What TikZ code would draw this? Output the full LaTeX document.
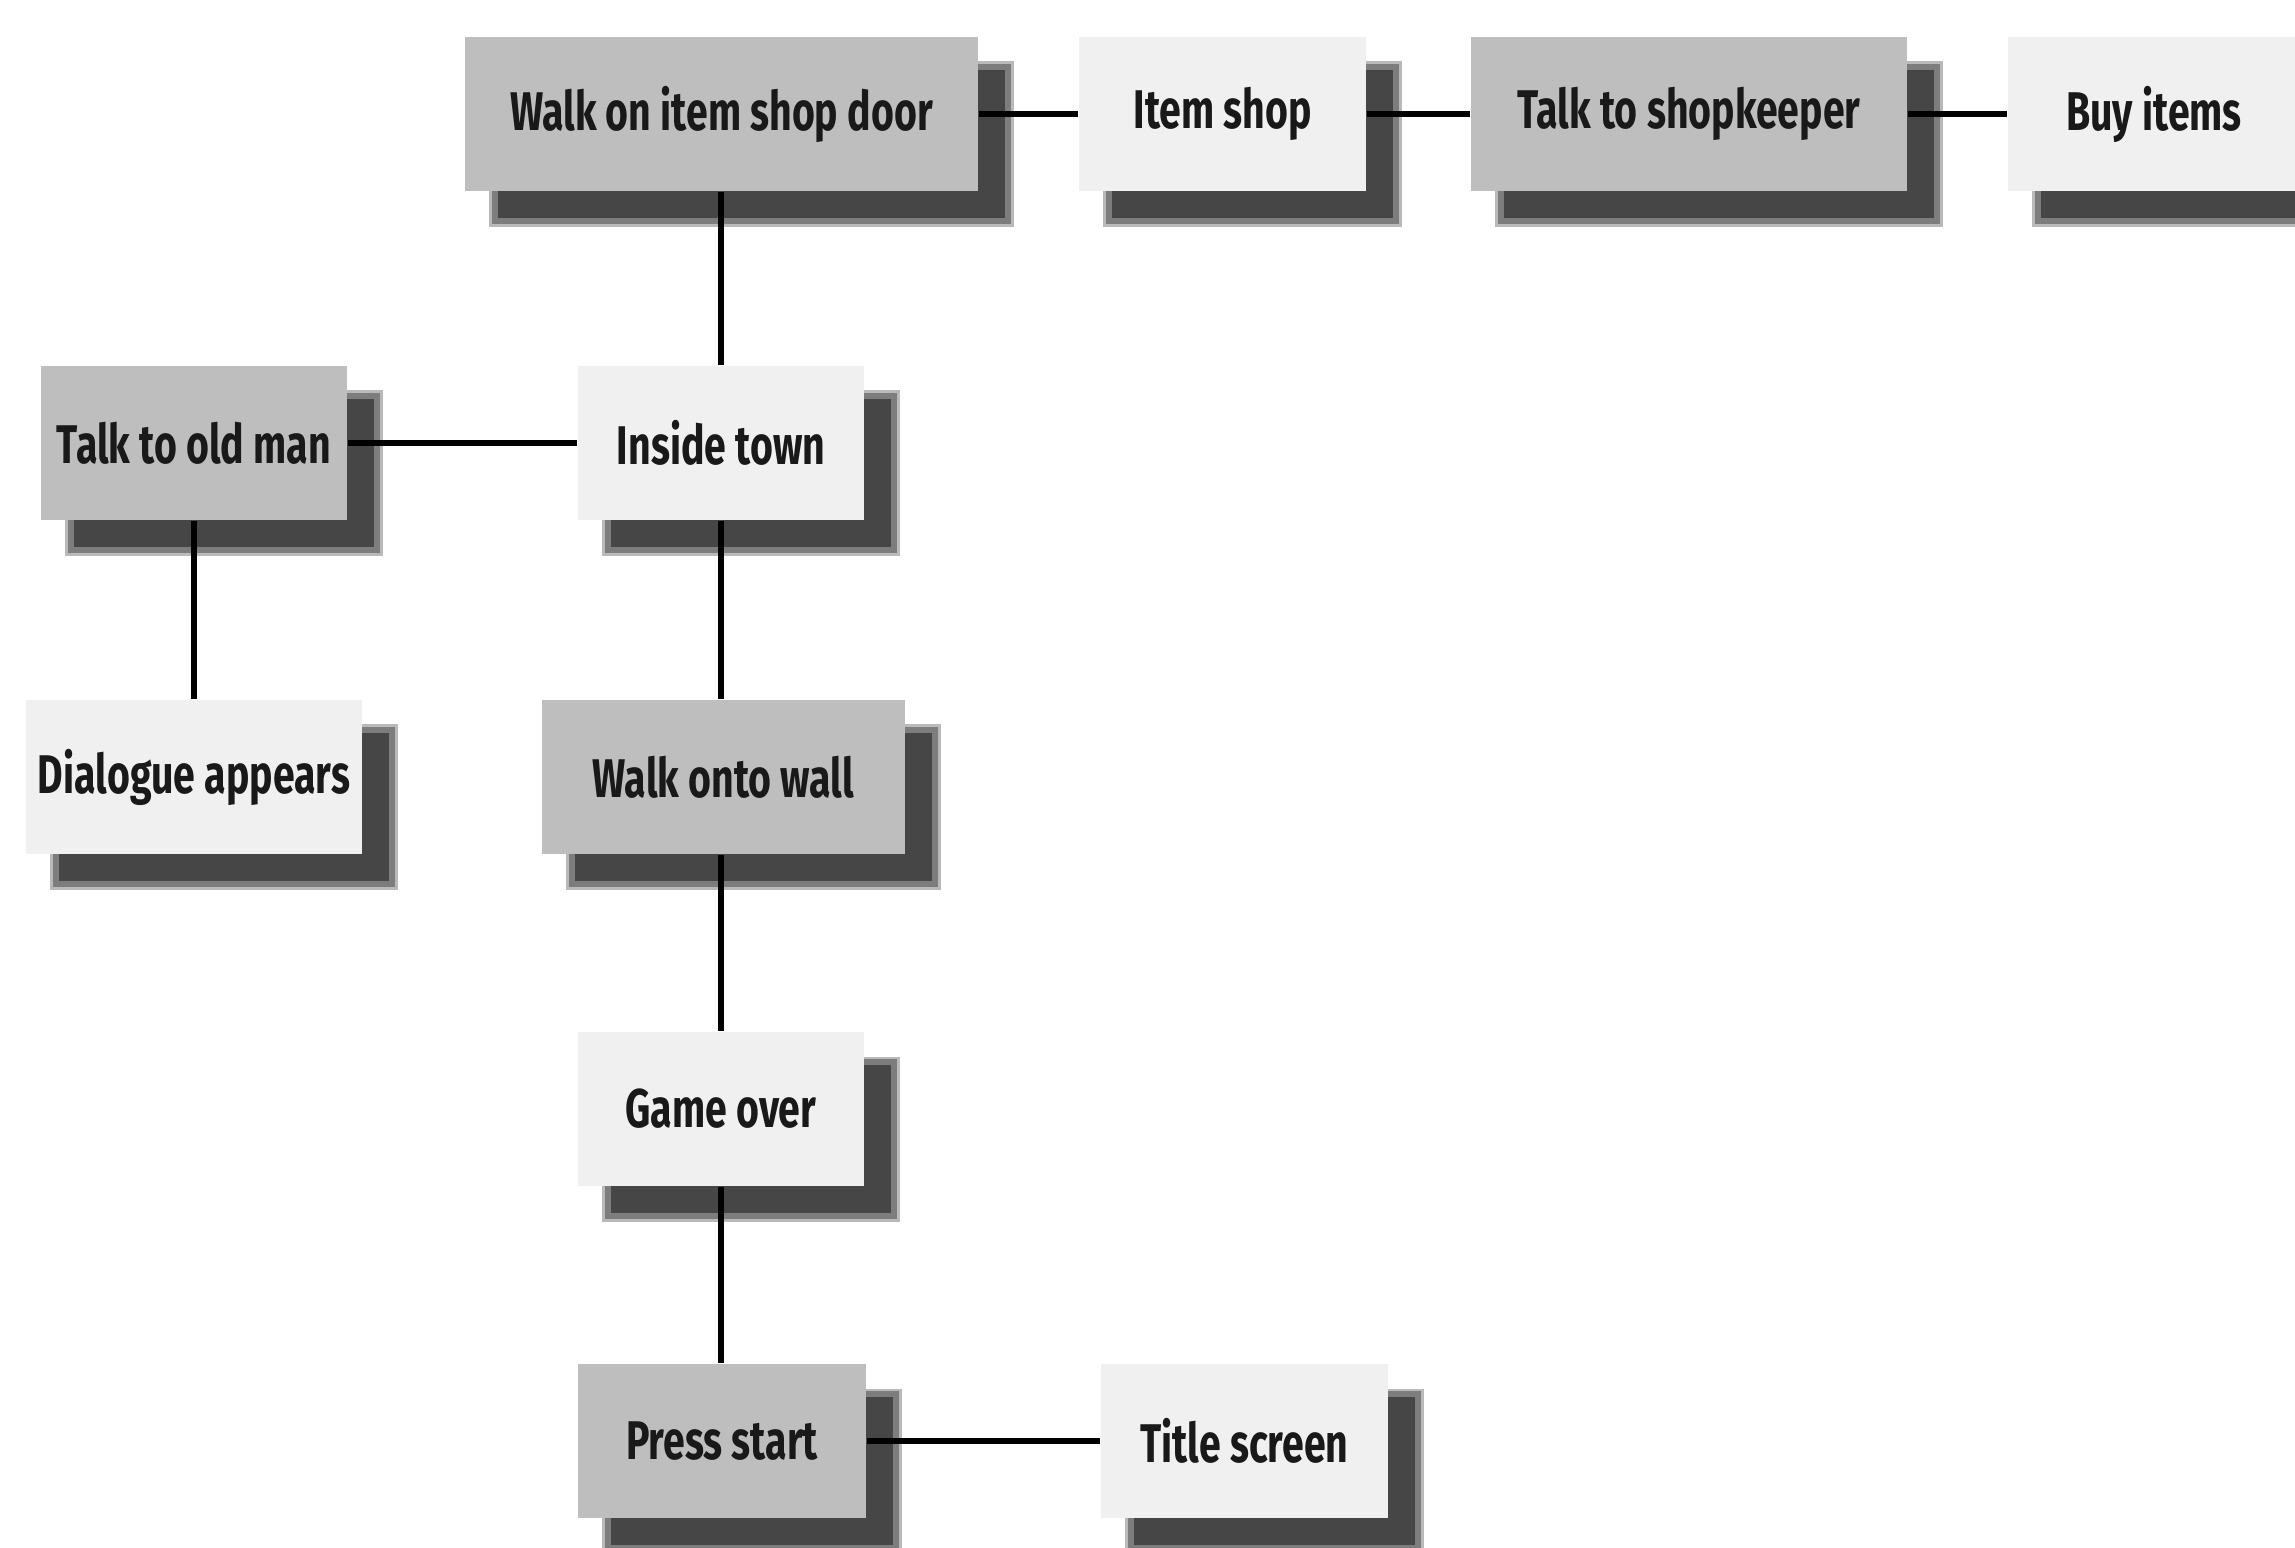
\documentclass[tikz,border=0pt]{standalone}
\usepackage{fontspec}
\setmainfont{Fira Sans}[FakeStretch=0.72]
\usetikzlibrary{shadows}
\definecolor{darkfill}{RGB}{190,190,190}
\definecolor{lightfill}{RGB}{240,240,240}
\definecolor{shadowcore}{RGB}{70,70,70}
\definecolor{shadowhalo}{RGB}{125,125,125}
\definecolor{shadowouter}{RGB}{185,185,185}
\tikzset{
  gbox/.style={rectangle, minimum height=1.54cm, inner sep=0pt, text=black!90,
    font=\fontsize{15.5}{18}\selectfont\bfseries,
    general shadow={shadow xshift=0.30cm, shadow yshift=-0.30cm,
      draw=shadowouter, line width=0.11cm},
    general shadow={shadow xshift=0.30cm, shadow yshift=-0.30cm,
      fill=shadowcore, draw=shadowhalo, line width=0.06cm}},
  dbox/.style={gbox, fill=darkfill},
  lbox/.style={gbox, fill=lightfill},
  conn/.style={draw=black, line width=0.06cm}
}
\begin{document}
\begin{tikzpicture}[x=0.01cm,y=-0.01cm]
\useasboundingbox[fill=white] (0,0) rectangle (2295,1547);
\begin{scope}
\clip (0,0) rectangle (2295,1547);
% row 1
\node[dbox, minimum width=5.13cm] (door) at (721.5,114) {Walk on item shop door};
\node[lbox, minimum width=2.87cm] (shop) at (1222.5,114) {Item shop};
\node[dbox, minimum width=4.36cm] (keeper) at (1689,114) {Talk to shopkeeper};
\node[lbox, minimum width=2.92cm] (buy) at (2154,114) {Buy items};
% row 2
\node[dbox, minimum width=3.06cm] (oldman) at (194,443) {Talk to old man};
\node[lbox, minimum width=2.86cm] (town) at (721,443) {Inside town};
% row 3
\node[lbox, minimum width=3.36cm] (dialog) at (194,777) {Dialogue appears};
\node[dbox, minimum width=3.63cm] (wall) at (723.5,777) {Walk onto wall};
% row 4
\node[lbox, minimum width=2.86cm] (over) at (721,1109) {Game over};
% row 5
\node[dbox, minimum width=2.88cm] (press) at (722,1441) {Press start};
\node[lbox, minimum width=2.87cm] (title) at (1244.5,1441) {Title screen};
% connectors
\draw[conn] (door.east) -- (shop.west);
\draw[conn] (shop.east) -- (keeper.west);
\draw[conn] (keeper.east) -- (buy.west);
\draw[conn] (door.south -| town.north) -- (town.north);
\draw[conn] (oldman.east) -- (town.west);
\draw[conn] (oldman.south) -- (dialog.north);
\draw[conn] (town.south) -- (town.south |- wall.north);
\draw[conn] (town.south |- wall.south) -- (town.south |- over.north);
\draw[conn] (over.south) -- (over.south |- press.north);
\draw[conn] (press.east) -- (title.west);
\end{scope}
\end{tikzpicture}
\end{document}
